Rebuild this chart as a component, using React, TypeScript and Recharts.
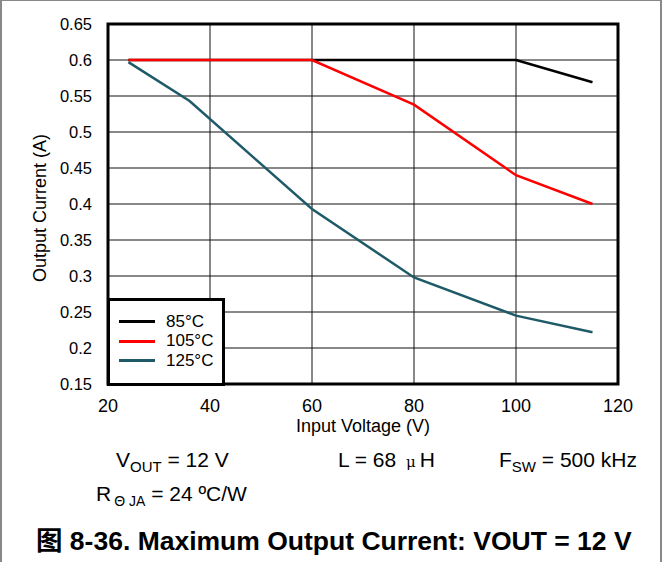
import React from 'react';
import { LineChart, Line, XAxis, YAxis, CartesianGrid, ReferenceArea } from 'recharts';

const xTicks = [20, 40, 60, 80, 100, 120];
const yTicks = [0.15, 0.2, 0.25, 0.3, 0.35, 0.4, 0.45, 0.5, 0.55, 0.6, 0.65];
const yTickLabels = ['0.15', '0.2', '0.25', '0.3', '0.35', '0.4', '0.45', '0.5', '0.55', '0.6', '0.65'];

const t85 = [
  { v: 24, i: 0.6 },
  { v: 60, i: 0.6 },
  { v: 100, i: 0.6 },
  { v: 115, i: 0.569 },
];
const t105 = [
  { v: 24, i: 0.6 },
  { v: 60, i: 0.6 },
  { v: 80, i: 0.538 },
  { v: 100, i: 0.44 },
  { v: 115, i: 0.4 },
];
const t125 = [
  { v: 24, i: 0.597 },
  { v: 36, i: 0.543 },
  { v: 60, i: 0.393 },
  { v: 80, i: 0.298 },
  { v: 100, i: 0.245 },
  { v: 115, i: 0.222 },
];

const seriesNames = ['85°C', '105°C', '125°C'];
const seriesColors = ['#000000', '#ff0000', '#1f5a68'];

const FONT = '"Liberation Sans", Arial, sans-serif';

const LegendBox = () => (
  <div
    style={{
      position: 'absolute',
      left: 107,
      top: 298,
      width: 112,
      height: 82,
      border: '3px solid #000',
      background: '#fff',
      fontFamily: FONT,
      fontSize: 17,
      color: '#000',
      boxSizing: 'content-box',
    }}
  >
    {seriesNames.map((n, k) => (
      <div key={n} style={{ display: 'flex', alignItems: 'center', height: 19.5, marginTop: k === 0 ? 11 : 0 }}>
        <div style={{ width: 36, height: 3, background: seriesColors[k], marginLeft: 9, marginRight: 11 }} />
        <span>{n}</span>
      </div>
    ))}
  </div>
);

const XTick = (props: any) => {
  const { x, y, payload } = props;
  return (
    <text x={x} y={y + 20} textAnchor="middle" fontFamily={FONT} fontSize={18} fill="#000">
      {payload.value}
    </text>
  );
};

const YTick = (props: any) => {
  const { x, y, payload } = props;
  const idx = yTicks.findIndex((t) => Math.abs(t - payload.value) < 1e-6);
  return (
    <text x={x - 8} y={y + 6} textAnchor="end" fontFamily={FONT} fontSize={16.5} fill="#000">
      {idx >= 0 ? yTickLabels[idx] : payload.value}
    </text>
  );
};

export default function App() {
  return (
    <div
      style={{
        position: 'fixed',
        left: 0,
        top: 0,
        width: 664,
        height: 562,
        background: '#fff',
        fontFamily: FONT,
        color: '#000',
        overflow: 'hidden',
      }}
    >
      <div
        style={{
          position: 'absolute',
          left: 0,
          top: 0,
          width: 662,
          height: 570,
          borderLeft: '2px solid #888',
          borderTop: '1px solid #888',
          borderRight: '2px solid #888',
          boxSizing: 'border-box',
        }}
      />
      <div style={{ position: 'absolute', left: 0, top: 0 }}>
        <LineChart width={664} height={562} margin={{ top: 24, right: 46, bottom: 148, left: 48 }}>
          <CartesianGrid stroke="#111" strokeWidth={1} horizontalValues={yTicks} verticalValues={xTicks} />
          <XAxis
            dataKey="v"
            type="number"
            domain={[20, 120]}
            ticks={xTicks}
            axisLine={false}
            tickLine={false}
            height={30}
            tick={<XTick />}
            allowDuplicatedCategory={false}
          />
          <YAxis
            type="number"
            domain={[0.15, 0.65]}
            ticks={yTicks}
            axisLine={false}
            tickLine={false}
            width={60}
            tick={<YTick />}
          />
          <ReferenceArea
            x1={20}
            x2={120}
            y1={0.15}
            y2={0.65}
            fill="none"
            stroke="#000"
            strokeWidth={3}
            ifOverflow="visible"
          />
          <Line data={t85} dataKey="i" name={seriesNames[0]} stroke={seriesColors[0]} strokeWidth={2.5} dot={false} isAnimationActive={false} />
          <Line data={t105} dataKey="i" name={seriesNames[1]} stroke={seriesColors[1]} strokeWidth={2.5} dot={false} isAnimationActive={false} />
          <Line data={t125} dataKey="i" name={seriesNames[2]} stroke={seriesColors[2]} strokeWidth={2.5} dot={false} isAnimationActive={false} />
        </LineChart>
      </div>
      <LegendBox />
      <div style={{ position: 'absolute', left: 40, top: 208, transform: 'translate(-50%, -50%) rotate(-90deg)', whiteSpace: 'nowrap', fontSize: 18 }}>
        Output Current (A)
      </div>
      <div style={{ position: 'absolute', left: 363, top: 426, transform: 'translate(-50%, -50%)', whiteSpace: 'nowrap', fontSize: 18, lineHeight: '18px' }}>
        Input Voltage (V)
      </div>
      <div style={{ position: 'absolute', left: 116, top: 448, whiteSpace: 'nowrap', fontSize: 21 }}>
        V<sub style={{ fontSize: 15, verticalAlign: -5 }}>OUT</sub> = 12 V
      </div>
      <div style={{ position: 'absolute', left: 338, top: 448, whiteSpace: 'nowrap', fontSize: 21 }}>
        L = 68 <span style={{ fontSize: 15, fontFamily: '"DejaVu Serif", serif', margin: '0 4px' }}>μ</span>H
      </div>
      <div style={{ position: 'absolute', left: 499, top: 448, whiteSpace: 'nowrap', fontSize: 21 }}>
        F<sub style={{ fontSize: 15, verticalAlign: -5 }}>SW</sub> = 500 kHz
      </div>
      <div style={{ position: 'absolute', left: 96, top: 482, whiteSpace: 'nowrap', fontSize: 21 }}>
        R<sub style={{ fontSize: 14, verticalAlign: -5, marginLeft: 3 }}>Θ JA</sub> = 24 ºC/W
      </div>
      <div
        style={{
          position: 'absolute',
          left: 36,
          top: 519,
          whiteSpace: 'nowrap',
          fontSize: 26.5,
          fontWeight: 'bold',
          fontFamily: '"Liberation Sans", "Noto Sans CJK SC", Arial, sans-serif',
        }}
      >
        图 8-36. Maximum Output Current: VOUT = 12 V
      </div>
    </div>
  );
}
